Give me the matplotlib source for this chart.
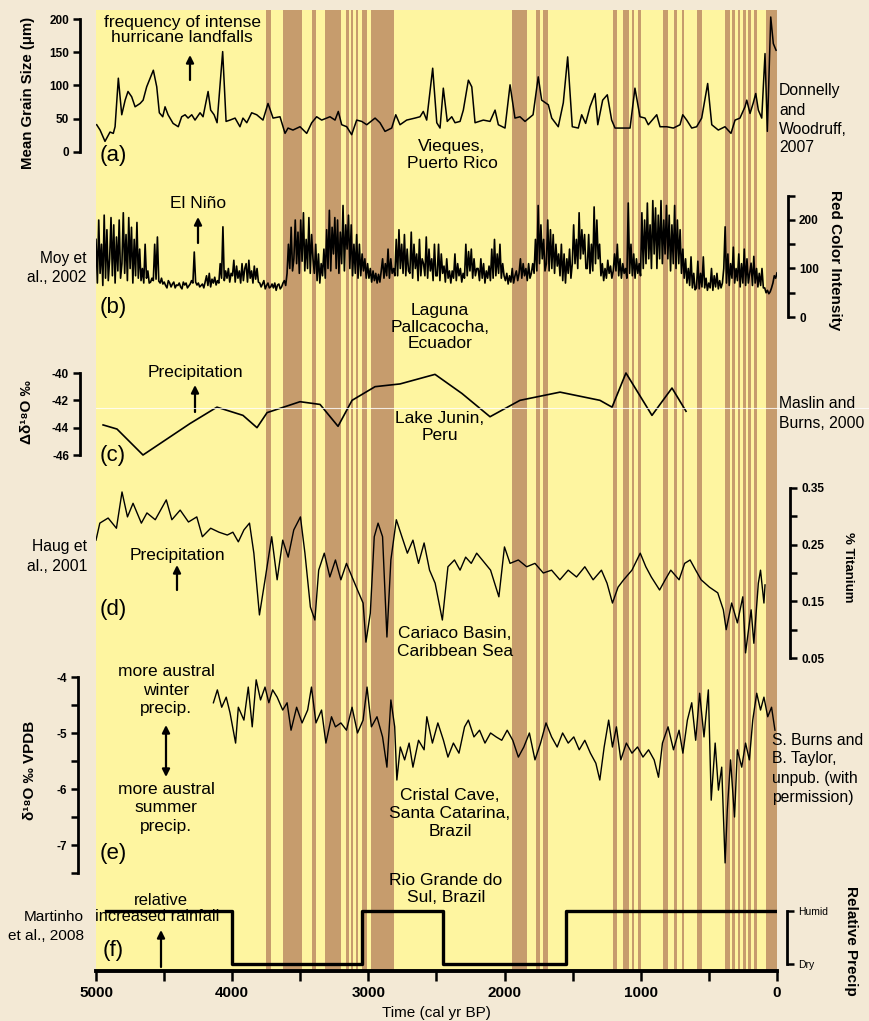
import numpy as np
import matplotlib
matplotlib.use('Agg')
import matplotlib.pyplot as plt

W, H = 869, 1021
plt.rcParams['font.family'] = ['Liberation Sans', 'DejaVu Sans']

# Dry / wet bands (cal yr BP)
band_start = [3752, 3627, 3414, 3319, 3164, 3128, 3091, 3047, 2981, 1946, 1769, 1718,
              1204, 1131, 1065, 1021, 837, 756, 697, 587, 382, 330, 286, 250, 213, 169, 81]
band_end = [3715, 3487, 3385, 3201, 3142, 3113, 3076, 3010, 2812, 1836, 1740, 1681,
            1175, 1087, 1050, 998, 800, 734, 683, 551, 345, 308, 272, 228, 191, 147, 0]

# (a) Vieques grain size
a_yr = [4995, 4970, 4934, 4897, 4873, 4860, 4836, 4811, 4786, 4765, 4738, 4713, 4676, 4654,
        4628, 4579, 4554, 4535, 4510, 4493, 4471, 4434, 4396, 4371, 4346, 4324, 4297, 4273,
        4236, 4214, 4177, 4158, 4133, 4111, 4070, 4045, 4016, 3979, 3943, 3921, 3893, 3857,
        3820, 3774, 3737, 3700, 3649, 3612, 3590, 3554, 3502, 3453, 3416, 3380, 3343, 3282,
        3245, 3221, 3196, 3159, 3123, 3086, 3049, 3012, 2951, 2915, 2878, 2829, 2799, 2768,
        2719, 2658, 2621, 2597, 2572, 2528, 2498, 2474, 2450, 2421, 2388, 2364, 2327, 2303,
        2266, 2241, 2217, 2156, 2107, 2070, 2046, 1997, 1960, 1924, 1887, 1850, 1791, 1753,
        1728, 1679, 1654, 1606, 1569, 1537, 1503, 1459, 1434, 1405, 1373, 1336, 1316, 1280,
        1246, 1214, 1189, 1128, 1079, 1043, 1006, 969, 945, 883, 859, 810, 761, 712, 692,
        663, 626, 590, 553, 509, 479, 431, 382, 338, 308, 272, 235, 222, 198, 174, 156, 137,
        112, 88, 71, 46, 27, 7]
a_val = [41, 33, 16, 30, 28, 38, 111, 56, 78, 91, 83, 68, 73, 78,
         98, 123, 98, 59, 53, 68, 56, 43, 38, 53, 56, 51, 56, 48,
         59, 53, 91, 63, 56, 44, 151, 46, 48, 51, 38, 51, 44, 59,
         56, 48, 73, 51, 53, 28, 36, 33, 38, 28, 44, 53, 48, 53,
         48, 61, 41, 38, 26, 48, 46, 41, 51, 44, 31, 36, 56, 41,
         48, 51, 53, 61, 48, 126, 44, 36, 96, 46, 53, 44, 46, 63,
         108, 98, 44, 48, 46, 63, 41, 36, 101, 51, 53, 46, 56, 113,
         78, 71, 51, 38, 74, 143, 38, 36, 56, 43, 68, 88, 41, 78,
         86, 48, 36, 36, 36, 96, 53, 51, 41, 56, 38, 38, 36, 41, 56,
         48, 36, 38, 51, 103, 41, 33, 38, 28, 48, 51, 68, 78, 58, 74, 88, 63,
         51, 148, 31, 203, 163, 153]

# (b) Laguna Pallcacocha red colour intensity, 10-yr steps from 5000 BP
b_vals = [
    160, 70, 200, 90, 150, 65, 210, 80, 180, 75, 120, 205, 85, 190, 70, 165, 95, 200, 80, 110,
    215, 90, 170, 75, 205, 100, 185, 70, 160, 85, 195, 80, 140, 75, 100, 70, 150, 80, 95, 70,
    72, 80, 75, 150, 78, 165, 74, 70, 80, 68, 72, 65, 60, 75, 70, 62, 68, 72, 60, 66,
    65, 70, 62, 58, 72, 66, 70, 60, 64, 68, 75, 70, 134, 72, 66, 70, 62, 65, 68, 60,
    72, 85, 65, 90, 62, 78, 70, 82, 66, 75, 70, 110, 80, 186, 75, 95, 80, 100, 72, 90,
    85, 117, 72, 105, 80, 95, 70, 110, 75, 100, 110, 72, 117, 80, 95, 70, 105, 78, 100, 72,
    70, 62, 68, 75, 58, 65, 70, 60, 62, 68, 60, 70, 55, 66, 68, 58, 62, 70, 75, 65,
    90, 150, 100, 185, 95, 120, 200, 110, 175, 90, 200, 115, 215, 95, 160, 100, 205, 90, 170, 120,
    90, 150, 75, 130, 70, 110, 85, 140, 80, 180, 100, 220, 95, 185, 130, 205, 100, 200, 90, 175,
    110, 230, 95, 190, 140, 210, 100, 190, 85, 150, 90, 170, 80, 150, 85, 130, 95, 120, 80, 110,
    80, 100, 72, 95, 75, 90, 70, 88, 72, 95, 120, 80, 110, 85, 140, 80, 120, 90, 100, 85,
    160, 85, 180, 100, 150, 90, 170, 85, 140, 95, 90, 175, 80, 150, 100, 130, 75, 160, 85, 120,
    110, 85, 165, 80, 140, 95, 120, 75, 150, 85, 85, 150, 75, 130, 90, 105, 72, 120, 80, 95,
    70, 95, 80, 130, 75, 110, 85, 100, 72, 90, 80, 150, 85, 135, 95, 140, 80, 120, 85, 100,
    100, 75, 120, 80, 110, 70, 95, 80, 105, 75, 140, 80, 160, 85, 130, 90, 150, 80, 110, 85,
    75, 90, 68, 85, 72, 100, 70, 85, 95, 75, 90, 120, 80, 110, 85, 100, 75, 110, 80, 90,
    110, 90, 160, 95, 230, 110, 190, 120, 160, 95, 110, 200, 95, 180, 100, 170, 90, 150, 105, 130,
    85, 150, 75, 130, 70, 120, 90, 140, 80, 110, 190, 110, 160, 100, 215, 120, 180, 130, 170, 100,
    100, 170, 90, 150, 95, 227, 110, 200, 120, 150, 85, 110, 75, 100, 80, 117, 90, 105, 80, 95,
    130, 95, 150, 85, 120, 80, 110, 90, 100, 80, 235, 90, 150, 85, 130, 80, 120, 90, 110, 85,
    215, 100, 200, 110, 235, 120, 190, 100, 240, 130, 225, 100, 210, 120, 240, 110, 200, 130, 230, 120,
    210, 95, 190, 110, 230, 100, 200, 110, 180, 90, 140, 80, 120, 70, 100, 65, 124, 60, 90, 56,
    60, 115, 58, 90, 62, 124, 60, 80, 55, 70, 60, 100, 55, 85, 62, 90, 58, 75, 60, 70,
    100, 186, 70, 130, 65, 110, 80, 144, 70, 100, 75, 130, 62, 110, 70, 140, 65, 120, 70, 90,
    111, 65, 125, 70, 100, 62, 90, 65, 100, 60, 60, 50, 55, 48, 52, 60, 70, 85, 80, 91,
]
b_yr = np.linspace(5000, 0, len(b_vals))

# (c) Lake Junin
c_yr = [4948, 4846, 4655, 4310, 4112, 3921, 3818, 3744, 3502, 3355, 3223, 3120, 2951,
        2768, 2511, 2313, 2107, 1887, 1593, 1300, 1211, 1109, 918, 771, 668]
c_val = [-43.8, -44.1, -46.0, -43.7, -42.5, -43.1, -44.0, -42.9, -42.1, -42.3, -43.9, -42.0,
         -41.0, -40.8, -40.1, -41.5, -43.2, -42.0, -41.4, -42.0, -42.5, -40.0, -43.1, -41.1, -42.8]

# (d) Cariaco Basin % Ti
d_yr = [5000, 4972, 4911, 4850, 4809, 4769, 4728, 4667, 4626, 4565, 4484, 4443, 4382, 4321,
        4260, 4219, 4158, 4097, 4036, 3995, 3955, 3914, 3873, 3841, 3800, 3759, 3710, 3670,
        3629, 3589, 3548, 3499, 3466, 3426, 3393, 3365, 3324, 3283, 3242, 3202, 3161, 3120,
        3080, 3039, 3018, 2986, 2957, 2929, 2896, 2864, 2835, 2795, 2754, 2714, 2673, 2632,
        2591, 2551, 2510, 2457, 2416, 2368, 2327, 2286, 2245, 2205, 2164, 2103, 2042, 2001,
        1960, 1899, 1838, 1777, 1716, 1655, 1594, 1533, 1472, 1411, 1350, 1289, 1248, 1208,
        1167, 1126, 1065, 1004, 963, 923, 862, 821, 780, 719, 678, 638, 597, 557, 496, 435,
        394, 373, 333, 291, 251, 231, 190, 170, 137, 121, 96, 88]
d_val = [0.258, 0.288, 0.297, 0.279, 0.343, 0.299, 0.323, 0.288, 0.306, 0.294, 0.329, 0.294,
         0.311, 0.290, 0.299, 0.264, 0.279, 0.272, 0.267, 0.272, 0.255, 0.276, 0.288, 0.235,
         0.126, 0.188, 0.264, 0.188, 0.258, 0.228, 0.276, 0.299, 0.235, 0.140, 0.117, 0.205,
         0.235, 0.193, 0.223, 0.188, 0.217, 0.193, 0.170, 0.147, 0.078, 0.129, 0.264, 0.288,
         0.264, 0.087, 0.223, 0.294, 0.264, 0.235, 0.258, 0.217, 0.253, 0.205, 0.182, 0.117,
         0.211, 0.223, 0.205, 0.228, 0.217, 0.235, 0.223, 0.205, 0.158, 0.246, 0.217, 0.223,
         0.211, 0.217, 0.200, 0.205, 0.188, 0.205, 0.193, 0.211, 0.188, 0.205, 0.182, 0.147,
         0.175, 0.188, 0.205, 0.235, 0.211, 0.193, 0.170, 0.188, 0.205, 0.188, 0.217, 0.223,
         0.205, 0.188, 0.175, 0.165, 0.135, 0.100, 0.147, 0.112, 0.158, 0.059, 0.135, 0.076,
         0.182, 0.205, 0.147, 0.179]

# (e) Cristal Cave d18O
e_yr = [4138, 4109, 4077, 4044, 4016, 3975, 3955, 3914, 3882, 3853, 3824, 3792, 3759, 3731,
        3703, 3670, 3629, 3597, 3568, 3527, 3487, 3446, 3418, 3385, 3344, 3312, 3271, 3242,
        3202, 3161, 3120, 3080, 3039, 3010, 2978, 2937, 2896, 2864, 2835, 2807, 2791, 2766,
        2734, 2701, 2673, 2632, 2591, 2571, 2530, 2490, 2449, 2416, 2376, 2335, 2294, 2266,
        2225, 2184, 2144, 2103, 2062, 2021, 1981, 1940, 1899, 1859, 1818, 1777, 1736, 1696,
        1655, 1614, 1574, 1533, 1492, 1452, 1411, 1370, 1330, 1301, 1269, 1236, 1208, 1179,
        1147, 1106, 1065, 1024, 984, 943, 902, 870, 841, 800, 760, 719, 691, 658, 626, 597,
        568, 536, 504, 483, 454, 430, 406, 381, 365, 341, 312, 291, 259, 231, 203, 178, 149,
        121, 96, 68, 40, 15]
e_val = [-4.46, -4.23, -4.54, -4.36, -4.64, -5.18, -4.54, -4.77, -4.18, -4.89, -4.05, -4.41,
         -4.18, -4.46, -4.23, -4.36, -4.59, -4.46, -4.95, -4.54, -4.82, -4.59, -4.18, -4.82,
         -4.59, -5.18, -4.71, -4.89, -4.82, -4.95, -4.54, -5.00, -4.77, -4.18, -4.89, -4.71,
         -5.07, -5.61, -4.41, -4.89, -5.84, -5.25, -5.48, -5.18, -5.61, -5.13, -5.30, -4.71,
         -5.18, -4.82, -5.13, -5.43, -5.18, -5.36, -4.89, -4.77, -5.07, -4.95, -5.18, -5.00,
         -5.07, -5.13, -4.95, -5.13, -5.43, -5.25, -5.00, -5.48, -5.18, -4.82, -5.07, -5.25,
         -5.00, -5.18, -5.07, -5.30, -5.13, -5.36, -5.54, -5.84, -5.25, -4.77, -5.25, -4.89,
         -5.48, -5.18, -5.36, -5.25, -5.43, -5.30, -5.48, -5.79, -5.18, -4.89, -5.30, -4.95,
         -5.36, -4.77, -4.46, -5.13, -4.29, -5.07, -4.23, -6.20, -5.18, -6.02, -5.61, -7.32,
         -6.38, -5.48, -6.50, -5.30, -5.61, -5.18, -5.48, -4.77, -4.29, -4.59, -4.36, -4.71,
         -4.54, -4.95]

# (f) Rio Grande do Sul relative precipitation (1 = humid, 0 = dry)
f_yr = [4930, 4000, 3050, 2450, 1550, 0]
f_val = [1, 0, 1, 0, 1, 1]

time_ticks = [5000, 4000, 3000, 2000, 1000, 0]
time_minor = [4500, 3500, 2500, 1500, 500]

YELLOW = '#FEF5A0'
BROWN = '#C69C6D'

fig = plt.figure(figsize=(W / 100, H / 100), dpi=100)
fig.patch.set_facecolor('#F3E9D5')

L, R = 96, 777  # pixel columns of 5000 BP and 0 BP


def box(top, bot):
    return [L / W, 1 - bot / H, (R - L) / W, (bot - top) / H]


def fx(x):
    return x / W


def fy(y):
    return 1 - y / H


# background with the bands, also carries the time axis
bg = fig.add_axes(box(10, 971))
bg.set_facecolor(YELLOW)
bg.set_xlim(5000, 0)
bg.set_ylim(0, 1)
for s, e in zip(band_start, band_end):
    bg.axvspan(s, e, color=BROWN, lw=0)
for k in ['top', 'left', 'right']:
    bg.spines[k].set_visible(False)
bg.spines['bottom'].set_linewidth(2.8)
bg.set_yticks([])
bg.set_xticks(time_ticks)
bg.set_xticks(time_minor, minor=True)
bg.tick_params(axis='x', which='both', direction='out', length=7, width=1.8, pad=4)
for lab in bg.get_xticklabels():
    lab.set_fontsize(11)
    lab.set_fontweight('bold')
bg.set_xlabel('Time (cal yr BP)', fontsize=11, labelpad=4)

# scan artefact line
fig.add_artist(plt.Line2D([fx(96), fx(869)], [fy(408), fy(408)], color='white', lw=0.8, alpha=0.8))


def panel(p1, v1, p2, v2, top, bot):
    ax = fig.add_axes(box(top, bot))
    k = (v1 - v2) / (p2 - p1)
    ax.set_ylim(v2 - (bot - p2) * k, v1 + (p1 - top) * k)
    ax.set_xlim(5000, 0)
    ax.patch.set_visible(False)
    for s in ax.spines.values():
        s.set_visible(False)
    ax.set_xticks([])
    ax.set_yticks([])
    return ax


def yspine(ax, side, off_px, lo, hi, ticks, labels, size=8.5):
    sp = ax.spines[side]
    sp.set_visible(True)
    sp.set_position(('outward', off_px * 0.72))
    sp.set_bounds(lo, hi)
    sp.set_linewidth(2)
    ax.yaxis.set_ticks_position(side)
    ax.set_yticks(ticks)
    ax.set_yticklabels(labels, fontsize=size, fontweight='bold')
    ax.tick_params(axis='y', direction='out', length=5, width=1.8, pad=3)


# (a)
ax_a = panel(19, 200, 152, 0, 8, 166)
ax_a.plot(a_yr, a_val, color='k', lw=1.1)
yspine(ax_a, 'left', 16, 0, 200, [0, 50, 100, 150, 200], ['0', '50', '100', '150', '200'])

# (b)
ax_b = panel(220, 200, 317, 0, 180, 325)
ax_b.plot(b_yr, b_vals, color='k', lw=1.2)
yspine(ax_b, 'right', 11, 0, 250, [0, 50, 100, 150, 200, 250], ['0', '', '100', '', '200', ''])

# (c)
ax_c = panel(373, -40, 455, -46, 362, 465)
ax_c.plot(c_yr, c_val, color='k', lw=1.2)
yspine(ax_c, 'left', 16, -46, -40, [-46, -44, -42, -40], ['-46', '-44', '-42', '-40'])

# (d)
ax_d = panel(488, 0.35, 658, 0.05, 478, 668)
ax_d.plot(d_yr, d_val, color='k', lw=1.0)
yspine(ax_d, 'right', 13, 0.05, 0.35, [0.05, 0.1, 0.15, 0.2, 0.25, 0.3, 0.35],
       ['0.05', '', '0.15', '', '0.25', '', '0.35'])

# (e)
ax_e = panel(677, -4, 845, -7, 665, 880)
ax_e.plot(e_yr, e_val, color='k', lw=1.0)
yspine(ax_e, 'left', 18, -7.5, -4, [-7.5, -7, -6.5, -6, -5.5, -5, -4.5, -4],
       ['', '-7', '', '-6', '', '-5', '', '-4'])

# (f)
ax_f = panel(911, 1, 964, 0, 885, 970)
ax_f.step(f_yr, f_val, where='post', color='k', lw=2.4)
yspine(ax_f, 'right', 10, 0, 1, [0, 1], ['Dry', 'Humid'], size=7.5)
for lab in ax_f.get_yticklabels():
    lab.set_fontweight('normal')


def txt(x, y, s, size=12.5, ha='center', **kw):
    fig.text(fx(x), fy(y), s, fontsize=size, ha=ha, va='center', **kw)


def lines(x, y0, dy, strs, **kw):
    for i, s in enumerate(strs):
        txt(x, y0 + i * dy, s, **kw)


def arrow(x, y0, y1, style='-|>'):
    bg.annotate('', xy=(fx(x), fy(y1)), xytext=(fx(x), fy(y0)), xycoords='figure fraction',
                arrowprops=dict(arrowstyle=style, color='k', lw=1.6, mutation_scale=11,
                                shrinkA=0, shrinkB=0))


# axis titles
txt(28, 93, 'Mean Grain Size (μm)', size=10.8, rotation=90, fontweight='bold')
txt(835, 260, 'Red Color Intensity', size=11, rotation=-90, fontweight='bold')
txt(27, 412, 'Δδ¹⁸O ‰', size=11, rotation=90, fontweight='bold')
txt(848, 567, '% Titanium', size=9.5, rotation=-90, fontweight='bold')
txt(30, 770, 'δ¹⁸O ‰ VPDB', size=11, rotation=90, fontweight='bold')
txt(851, 941, 'Relative Precip', size=11, rotation=-90, fontweight='bold')

# panel letters
for lab, y in [('(a)', 155), ('(b)', 307), ('(c)', 456), ('(d)', 610), ('(e)', 853), ('(f)', 950)]:
    txt(113, y, lab, size=16)

# (a) annotations
lines(182, 22, 16, ['frequency of intense', 'hurricane landfalls'])
arrow(190, 80, 55)
lines(452, 147, 16, ['Vieques,', 'Puerto Rico'])
lines(779, 91, 19, ['Donnelly', 'and', 'Woodruff,', '2007'], size=11.3, ha='left')

# (b)
txt(198, 204, 'El Niño')
arrow(198, 243, 217)
lines(86, 258, 19, ['Moy et', 'al., 2002'], size=11.2, ha='right')
lines(440, 310, 17, ['Laguna', 'Pallcacocha,', 'Ecuador'])

# (c)
txt(195, 373, 'Precipitation')
arrow(195, 412, 385)
lines(440, 418, 17, ['Lake Junin,', 'Peru'])
lines(779, 403, 20, ['Maslin and', 'Burns, 2000'], size=11.3, ha='left')

# (d)
lines(87, 547, 19, ['Haug et', 'al., 2001'], size=11.3, ha='right')
txt(177, 555, 'Precipitation')
arrow(177, 590, 565)
lines(455, 634, 18, ['Cariaco Basin,', 'Caribbean Sea'])

# (e)
lines(166, 672, 18, ['more austral', 'winter', 'precip.'])
arrow(166, 725, 777, style='<|-|>')
lines(166, 790, 18, ['more austral', 'summer', 'precip.'])
lines(450, 795, 18, ['Cristal Cave,', 'Santa Catarina,', 'Brazil'])
lines(772, 740, 19, ['S. Burns and', 'B. Taylor,', 'unpub. (with', 'permission)'], size=11.3,
      ha='left')

# (f)
lines(84, 917, 19, ['Martinho', 'et al., 2008'], size=11.1, ha='right')
txt(161, 900, 'relative', size=12)
txt(157, 916, 'increased rainfall', size=11.8)
arrow(161, 967, 930)
lines(446, 880, 17, ['Rio Grande do', 'Sul, Brazil'])

fig.savefig('out.png', dpi=100, facecolor=fig.get_facecolor())
